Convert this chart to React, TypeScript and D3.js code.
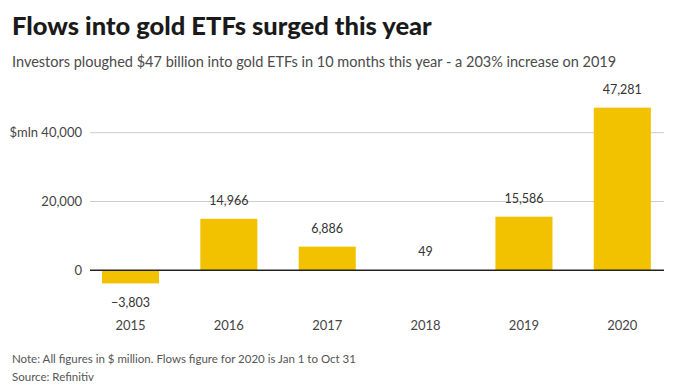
import React from "react";
import * as d3 from "d3";

const years = ["2015", "2016", "2017", "2018", "2019", "2020"];
const flows = [-3803, 14966, 6886, 49, 15586, 47281];
const yTicks = [0, 20000, 40000];

const W = 682;
const H = 392;
const FONT = "Lato, 'Open Sans', sans-serif";

export default function App() {
  const x = d3
    .scaleBand<string>()
    .domain(years)
    .range([81.3, 671.5])
    .paddingInner(0.42)
    .paddingOuter(0.21);
  const y = d3.scaleLinear().domain([0, 20000]).range([270.3, 201.5]);
  const fmt = d3.format(",");
  const gridX0 = 90;
  const gridX1 = 664;

  return (
    <svg
      width={W}
      height={H}
      style={{ position: "absolute", left: 0, top: 0, background: "#fff" }}
      fontFamily={FONT}
    >
      <text x={12} y={35} fontSize={25.5} fontWeight={900} fill="#1a1a1a">
        Flows into gold ETFs surged this year
      </text>
      <text x={12} y={67} fontSize={14.5} fill="#4a4a4a">
        Investors ploughed $47 billion into gold ETFs in 10 months this year - a 203% increase on 2019
      </text>

      {yTicks
        .filter((t) => t !== 0)
        .map((t) => (
          <line key={t} x1={gridX0} x2={gridX1} y1={y(t)} y2={y(t)} stroke="#cccccc" strokeWidth={1} />
        ))}
      {yTicks.map((t, i) => (
        <text key={t} x={82} y={y(t) + 4.5} fontSize={13} textAnchor="end" fill="#444">
          {(i === yTicks.length - 1 ? "$mln " : "") + fmt(t)}
        </text>
      ))}

      {flows.map((v, i) => (
        <rect
          key={years[i]}
          x={x(years[i])}
          width={x.bandwidth()}
          y={Math.min(y(v), y(0))}
          height={Math.abs(y(v) - y(0))}
          fill="#f2c100"
        />
      ))}
      <line x1={gridX0} x2={gridX1} y1={y(0)} y2={y(0)} stroke="#222" strokeWidth={1.5} />

      {flows.map((v, i) => (
        <text
          key={"l" + years[i]}
          x={(x(years[i]) as number) + x.bandwidth() / 2}
          y={v >= 0 ? y(v) - 14 : y(v) + 24}
          fontSize={12.5}
          textAnchor="middle"
          fill="#333"
        >
          {v < 0 ? "\u2212" + fmt(-v) : fmt(v)}
        </text>
      ))}

      {years.map((yr) => (
        <text
          key={"x" + yr}
          x={(x(yr) as number) + x.bandwidth() / 2}
          y={330}
          fontSize={13}
          textAnchor="middle"
          fill="#444"
        >
          {yr}
        </text>
      ))}

      <text x={12} y={363} fontSize={11.5} fill="#555">
        Note: All figures in $ million. Flows figure for 2020 is Jan 1 to Oct 31
      </text>
      <text x={12} y={380.5} fontSize={11.5} fill="#555">
        Source: Refinitiv
      </text>
    </svg>
  );
}
